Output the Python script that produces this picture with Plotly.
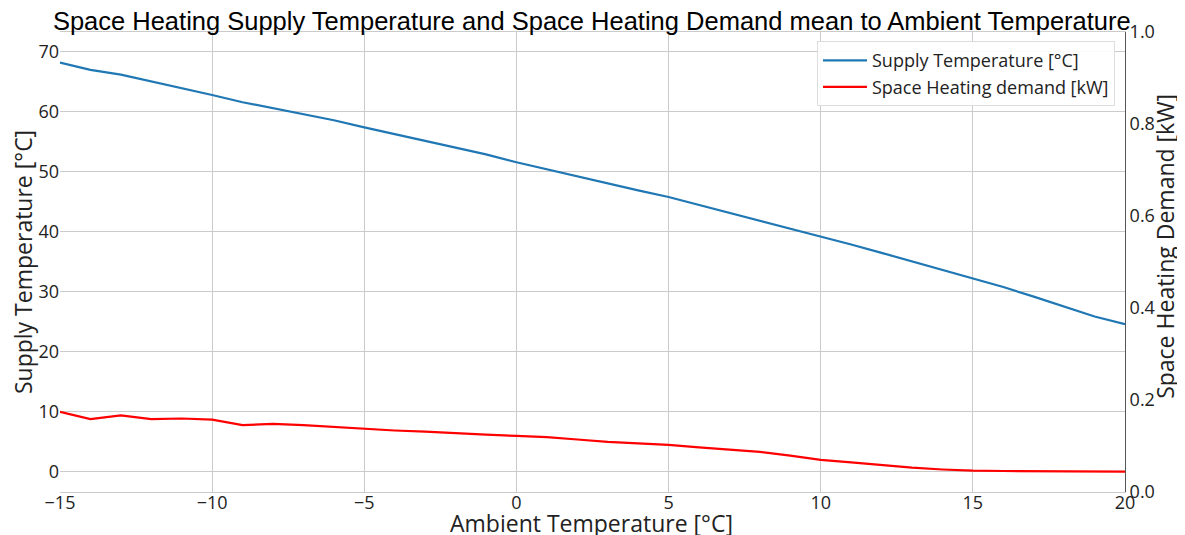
import plotly.graph_objects as go

ambient = list(range(-15, 21))
supply_temp = [68.2, 67.0, 66.2, 65.1, 64.0, 62.8, 61.6, 60.6, 59.6, 58.6,
               57.4, 56.3, 55.2, 54.1, 52.9, 51.6, 50.4, 49.2, 48.0, 46.9,
               45.8, 44.5, 43.2, 41.9, 40.6, 39.3, 37.9, 36.5, 35.1, 33.7,
               32.3, 30.8, 29.2, 27.5, 25.9, 24.6]
sh_demand = [10.0, 8.8, 9.4, 8.8, 8.9, 8.7, 7.8, 8.0, 7.8, 7.5,
             7.1, 6.9, 6.7, 6.4, 6.2, 6.0, 5.8, 5.4, 5.0, 4.75,
             4.5, 4.1, 3.7, 3.35, 2.7, 2.0, 1.6, 1.1, 0.7, 0.4,
             0.2, 0.15, 0.1, 0.08, 0.06, 0.05]
x_ticks = [-15, -10, -5, 0, 5, 10, 15, 20]
y_ticks = [0, 10, 20, 30, 40, 50, 60, 70]
y2_ticks = [0.0, 0.2, 0.4, 0.6, 0.8, 1.0]

grid = "#cbcbcb"
font = "Open Sans"
txt = "#222222"

fig = go.Figure()
fig.add_trace(go.Scatter(x=ambient, y=supply_temp, mode="lines",
                         name="Supply Temperature [°C]",
                         line=dict(color="#1f77b4", width=2.2)))
fig.add_trace(go.Scatter(x=ambient, y=sh_demand, mode="lines",
                         name="Space Heating demand [kW]",
                         line=dict(color="#ff0000", width=2.2)))
fig.add_trace(go.Scatter(x=[None], y=[None], yaxis="y2", showlegend=False,
                         hoverinfo="skip"))

fig.update_layout(
    width=1177, height=527,
    margin=dict(l=52, r=60, t=24, b=43),
    paper_bgcolor="white", plot_bgcolor="white",
    font=dict(family=font, size=18, color=txt),
    title=dict(text="Space Heating Supply Temperature and Space Heating Demand mean to Ambient Temperature",
               font=dict(family="Liberation Sans, Arial", size=25.5, color="black"),
               x=0.496, xanchor="center", y=0.975, yanchor="middle"),
    xaxis=dict(range=[-15, 20], tickvals=x_ticks, showgrid=True, gridcolor=grid,
               gridwidth=1, zeroline=False, showline=True, linecolor=grid, mirror=True,
               ticks="", tickfont=dict(size=18, color=txt), automargin=False,
               ticklabelstandoff=-6),
    yaxis=dict(range=[-3.35, 73.3], tickvals=y_ticks, showgrid=True, gridcolor=grid,
               gridwidth=1, zeroline=False, showline=False, ticks="",
               tickfont=dict(size=18, color=txt), automargin=False),
    yaxis2=dict(overlaying="y", side="right", range=[0, 1], tickvals=y2_ticks,
                tickformat=".1f", showgrid=False, zeroline=False, showline=True,
                linecolor="#555555", linewidth=1, ticks="",
                tickfont=dict(size=18, color=txt), automargin=False),
    legend=dict(x=0.9906, y=0.980, xanchor="right", yanchor="top",
                bgcolor="rgba(255,255,255,0.9)", bordercolor="#dddddd", borderwidth=1,
                itemwidth=44, font=dict(size=18, color=txt)),
    showlegend=True,
    annotations=[
        dict(text="Ambient Temperature [°C]", xref="paper", yref="paper",
             x=0.4995, y=-0.0674, xanchor="center", yanchor="middle", showarrow=False,
             font=dict(size=23, color=txt)),
        dict(text="Supply Temperature [°C]", xref="paper", yref="paper",
             x=-0.0347, y=0.5, xanchor="center", yanchor="middle", showarrow=False,
             textangle=-90, font=dict(size=23, color=txt)),
        dict(text="Space Heating Demand [kW]", xref="paper", yref="paper",
             x=1.0376, y=0.533, xanchor="center", yanchor="middle", showarrow=False,
             textangle=-90, font=dict(size=23, color=txt)),
    ],
)

fig.write_html("out.html")
